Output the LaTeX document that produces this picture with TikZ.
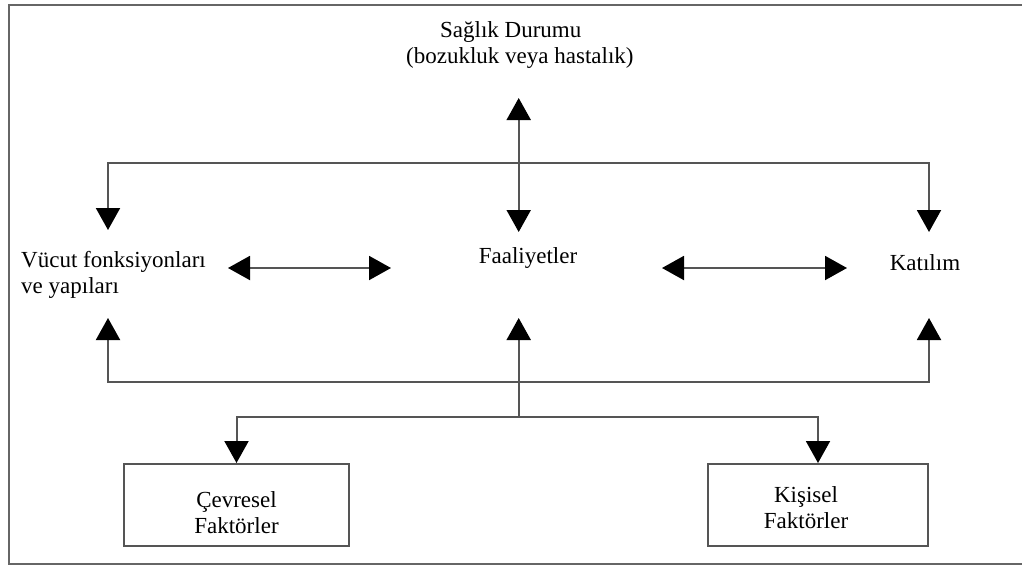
\documentclass[tikz,border=0pt]{standalone}
\usepackage{fontspec}
\setmainfont{Liberation Serif}
\usetikzlibrary{arrows.meta}
\definecolor{linegray}{HTML}{555555}
\definecolor{framegray}{HTML}{666666}
\begin{document}
\begin{tikzpicture}[x=1pt,y=-1pt,
  lbl/.style={inner sep=0pt, font=\fontsize{23}{26}\selectfont},
  conn/.style={draw=linegray, line width=2pt},
  tipend/.style={-{Triangle[width=24pt,length=22pt,color=black]}},
  tipboth/.style={{Triangle[width=24pt,length=22pt,color=black]}-{Triangle[width=24pt,length=22pt,color=black]}},
  fbox/.style={draw=linegray, line width=2pt, minimum width=225pt, minimum height=82pt, inner sep=0pt, font=\fontsize{23}{26}\selectfont}]
\useasboundingbox (0,0) rectangle (1022,568);
\draw[draw=framegray, line width=2pt] (1022,5) -- (9,5) -- (9,564) -- (1022,564);

% texts
\node[lbl, anchor=base west] (sag) at (406,37) {\begin{tabular}[t]{@{}l@{}}\hspace{34pt}Sağlık Durumu\\(bozukluk veya hastalık)\end{tabular}};
\node[lbl, anchor=base west] (vuc) at (21,267) {\begin{tabular}[t]{@{}l@{}}Vücut fonksiyonları\\ve yapıları\end{tabular}};
\node[lbl, anchor=base] (faal) at (528,263) {Faaliyetler};
\node[lbl, anchor=base] (kat) at (925,270) {Katılım};
\node[fbox] (cev) at (236.5,505) {\begin{tabular}{@{}c@{}}\rule{0pt}{37.8pt}Çevresel\\Faktörler\end{tabular}};
\node[fbox, minimum width=220pt] (kis) at (818,505) {\begin{tabular}{@{}c@{\hspace{24pt}}}\rule{0pt}{27.8pt}Kişisel\\Faktörler\end{tabular}};

% arrow end points
\coordinate (sagT) at (518.7,98);
\coordinate (faalT) at (518.7,232);
\coordinate (vucT) at (108,230);
\coordinate (katT) at (929,232);
\coordinate (vucR) at (228,268);
\coordinate (faalL) at (391,268);
\coordinate (faalR) at (662,268);
\coordinate (katL) at (847,268);
\coordinate (vucB) at (108,318);
\coordinate (katB) at (929,318);
\coordinate (faalB) at (518.7,318);
\coordinate (hub) at (518.7,417);

% connectors
\draw[conn, tipboth] (faalT) -- (sagT);
\draw[conn, tipboth] (vucT) -- (108,163) -- (929,163) -- (katT);
\draw[conn, tipboth] (vucR) -- (faalL);
\draw[conn, tipboth] (faalR) -- (katL);
\draw[conn, tipboth] (vucB) -- (108,382) -- (929,382) -- (katB);
\draw[conn, tipend] (hub) -- (faalB);
\draw[conn, tipboth] (cev.north) -- (cev.north |- hub) -- (kis.north |- hub) -- (kis.north);
\end{tikzpicture}
\end{document}
